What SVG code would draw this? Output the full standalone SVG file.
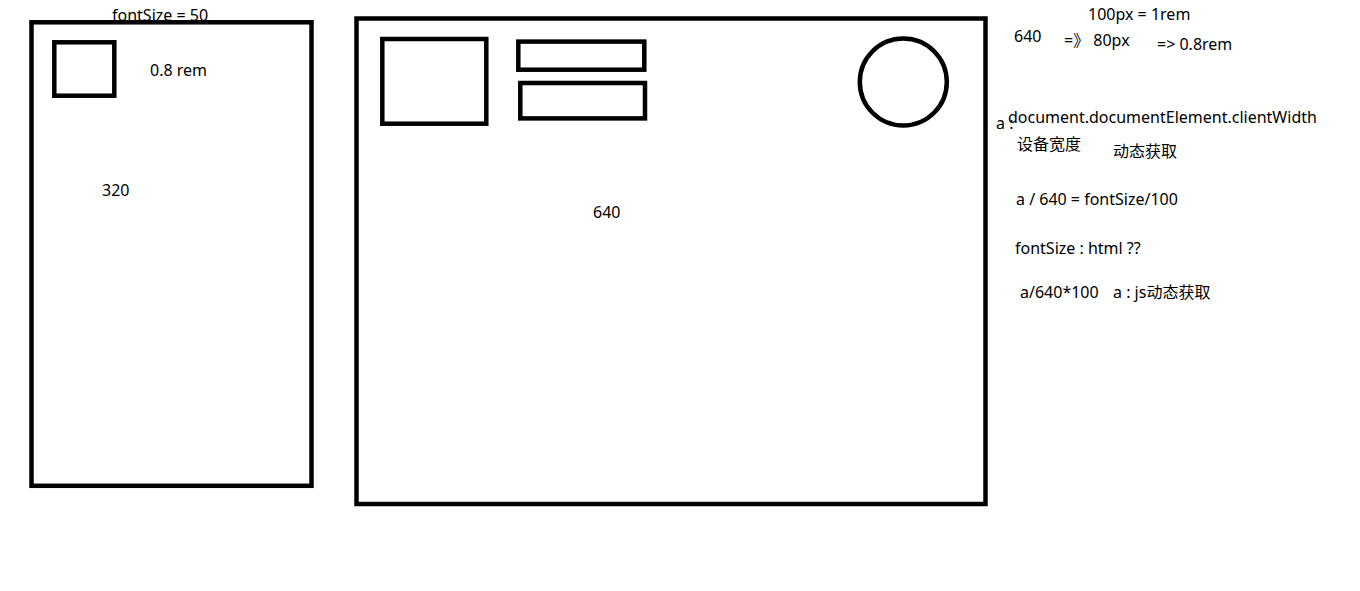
<svg xmlns="http://www.w3.org/2000/svg" width="1360" height="591" viewBox="0 0 1360 591">
<style>
text{font-family:"Noto Sans","Noto Sans CJK SC",sans-serif;font-size:16px;fill:#000}
.box{fill:none;stroke:#000;stroke-width:4.5}
</style>
<rect width="1360" height="591" fill="#fff"/>
<g id="labels-left">
<text x="112" y="21">fontSize = 50</text>
<text x="150" y="76">0.8 rem</text>
<text x="102" y="196">320</text>
</g>
<g id="phone320">
<rect class="box" x="31.5" y="22.3" width="280" height="463.5"/>
<rect class="box" x="54.3" y="42.3" width="60" height="53.4"/>
</g>
<g id="screen640">
<rect class="box" x="356.5" y="18.5" width="629" height="485.5"/>
<rect class="box" x="382.3" y="39" width="104" height="84.7"/>
<rect class="box" x="518.3" y="41.6" width="126" height="28.1"/>
<rect class="box" x="520.3" y="83" width="124.7" height="35.4"/>
<circle class="box" cx="903.3" cy="82" r="43.5"/>
<text x="593" y="218">640</text>
</g>
<g id="notes">
<text x="1088" y="20">100px = 1rem</text>
<text x="1014" y="42">640</text>
<text x="1064" y="46">=》 80px</text>
<text x="1157" y="50">=&gt; 0.8rem</text>
<text x="996" y="129">a :</text>
<text x="1008" y="123">document.documentElement.clientWidth</text>
<text x="1017" y="150">设备宽度</text>
<text x="1113" y="157">动态获取</text>
<text x="1016" y="205">a / 640 = fontSize/100</text>
<text x="1015" y="254">fontSize : html ??</text>
<text x="1020" y="298">a/640*100</text>
<text x="1113" y="298">a : js动态获取</text>
</g>
</svg>
